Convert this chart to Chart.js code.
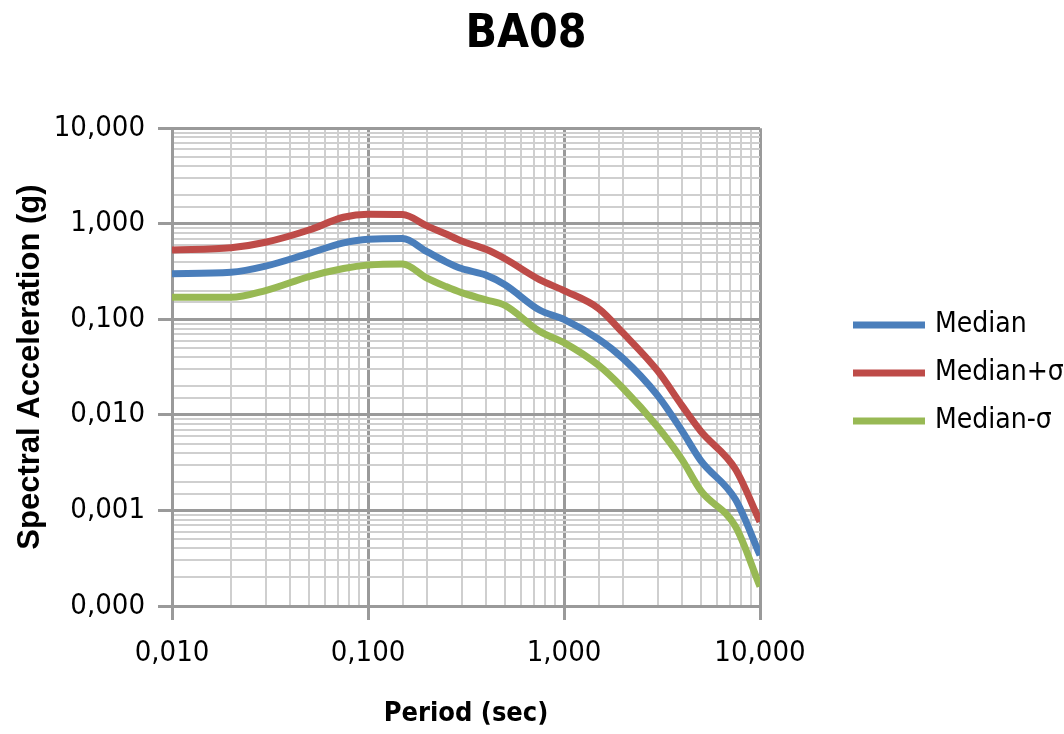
<!DOCTYPE html>
<html>
<head>
<meta charset="utf-8">
<title>BA08</title>
<script src="https://cdn.jsdelivr.net/npm/chart.js@4/dist/chart.umd.min.js"></script>
<style>
  html, body { margin: 0; padding: 0; background: #fff; }
  #wrap { width: 1064px; height: 734px; }
</style>
</head>
<body>
<div id="wrap"><canvas id="ba08"></canvas></div>
<script>
// BA08 response spectrum: median and +/- one sigma
const periods  = [0.01, 0.02, 0.03, 0.05, 0.075, 0.1, 0.15, 0.2, 0.25, 0.3, 0.4, 0.5, 0.75, 1.0, 1.5, 2.0, 3.0, 4.0, 5.0, 7.5, 10.0];
const median   = [0.30, 0.31, 0.36, 0.49, 0.63, 0.69, 0.70, 0.51, 0.40, 0.34, 0.29, 0.23, 0.125, 0.10, 0.062, 0.039, 0.016, 0.0068, 0.0033, 0.0013, 0.00034];
const medPlus  = [0.53, 0.56, 0.64, 0.86, 1.17, 1.26, 1.25, 0.95, 0.78, 0.66, 0.54, 0.43, 0.26, 0.20, 0.13, 0.072, 0.029, 0.0125, 0.0067, 0.0027, 0.00076];
const medMinus = [0.17, 0.17, 0.20, 0.28, 0.34, 0.37, 0.38, 0.27, 0.22, 0.19, 0.16, 0.14, 0.075, 0.057, 0.033, 0.019, 0.0075, 0.0034, 0.0016, 0.00068, 0.00016];
const seriesNames = ['Median', 'Median+σ', 'Median-σ'];
const xTicks = [0.01, 0.1, 1, 10];
const yTicks = [0.0001, 0.001, 0.01, 0.1, 1, 10];

const NARROW = '"DejaVu Sans Condensed", "Liberation Sans Narrow", sans-serif';
const colors = ['#4A7EBB', '#BE4B48', '#98B954'];

function pts(vals) {
  return periods.map((t, i) => ({ x: t, y: vals[i] }));
}
function isDecade(v) {
  const l = Math.log10(v);
  return Math.abs(l - Math.round(l)) < 1e-9;
}
function fmt(v) {
  return v.toFixed(3).replace('.', ',');
}
function gridColor(ctx) {
  return ctx.tick && isDecade(ctx.tick.value) ? '#9a9a9a' : '#cfcfcf';
}
function gridWidth(ctx) {
  return ctx.tick && isDecade(ctx.tick.value) ? 3 : 2;
}
function tickColor(ctx) {
  return ctx.tick && isDecade(ctx.tick.value) ? '#9a9a9a' : 'rgba(0,0,0,0)';
}

// legend drawn in the empty band right of the plot
const sideLegend = {
  id: 'sideLegend',
  afterDraw(chart) {
    const c = chart.ctx, a = chart.chartArea;
    const midY = (a.top + a.bottom) / 2 + 6;
    const x0 = a.right + 93, x1 = a.right + 165;
    c.save();
    c.font = '28px ' + NARROW;
    c.textBaseline = 'middle';
    c.fillStyle = '#000';
    chart.data.datasets.forEach((ds, i) => {
      const y = midY + (i - 1) * 48;
      c.strokeStyle = ds.borderColor;
      c.lineWidth = 7;
      c.beginPath();
      c.moveTo(x0, y);
      c.lineTo(x1, y);
      c.stroke();
      c.fillText(ds.label, x1 + 10, y);
    });
    c.restore();
  }
};

const sets = [median, medPlus, medMinus];

new Chart(document.getElementById('ba08'), {
  type: 'line',
  data: {
    datasets: sets.map((vals, i) => ({
      label: seriesNames[i],
      data: pts(vals),
      borderColor: colors[i],
      backgroundColor: colors[i],
      borderWidth: 7,
      pointRadius: 0,
      cubicInterpolationMode: 'monotone'
    }))
  },
  options: {
    responsive: true,
    maintainAspectRatio: false,
    animation: false,
    layout: { padding: { left: 0, right: 12, top: 0, bottom: 0 } },
    plugins: {
      legend: { display: false },
      tooltip: { enabled: false },
      title: {
        display: true,
        text: 'BA08',
        color: '#000',
        font: { family: NARROW, size: 46, weight: 'bold' },
        padding: { top: 7, bottom: 66 }
      }
    },
    scales: {
      x: {
        type: 'logarithmic',
        min: xTicks[0],
        max: xTicks[xTicks.length - 1],
        afterFit(scale) { scale.height = 128; },
        border: { color: '#9a9a9a', width: 3 },
        grid: { color: gridColor, lineWidth: gridWidth, tickColor: tickColor, tickLength: 14 },
        ticks: {
          autoSkip: false,
          maxRotation: 0,
          color: '#000',
          padding: 16,
          font: { family: NARROW, size: 29 },
          callback(v) { return xTicks.some(t => Math.abs(t - v) < t * 1e-6) ? fmt(v) : ''; }
        },
        title: {
          display: true,
          text: 'Period (sec)',
          color: '#000',
          font: { family: NARROW, size: 27, weight: 'bold' },
          padding: { top: 0, bottom: 4 }
        }
      },
      y: {
        type: 'logarithmic',
        min: yTicks[0],
        max: yTicks[yTicks.length - 1],
        afterFit(scale) { scale.width = 172; },
        border: { color: '#9a9a9a', width: 3 },
        grid: { color: gridColor, lineWidth: gridWidth, tickColor: tickColor, tickLength: 14 },
        ticks: {
          autoSkip: false,
          color: '#000',
          padding: 13,
          font: { family: NARROW, size: 29 },
          callback(v) { return yTicks.some(t => Math.abs(t - v) < t * 1e-6) ? fmt(v) : ''; }
        },
        title: {
          display: true,
          text: 'Spectral Acceleration (g)',
          color: '#000',
          font: { family: '"Liberation Sans", Arial, sans-serif', size: 31, weight: 'bold' },
          padding: { top: 12, bottom: 0 }
        }
      },
      // empty band on the right that holds the legend
      side: {
        type: 'linear',
        position: 'right',
        display: true,
        afterFit(scale) { scale.width = 292; },
        grid: { display: false },
        border: { display: false },
        ticks: { display: false }
      }
    }
  },
  plugins: [sideLegend]
});
</script>
</body>
</html>
